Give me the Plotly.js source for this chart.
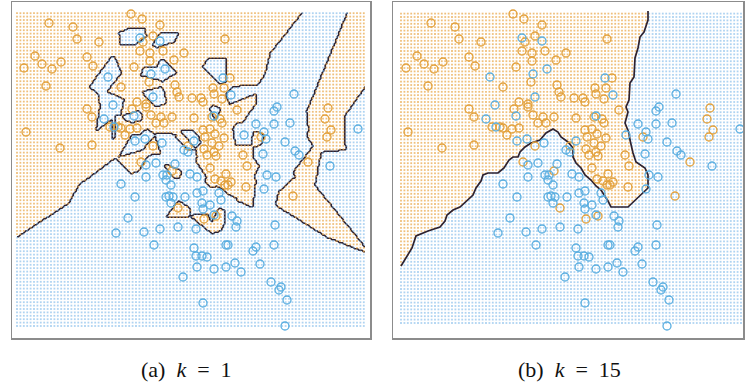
<!DOCTYPE html>
<html><head><meta charset="utf-8">
<script src="https://cdn.plot.ly/plotly-3.0.1.min.js"></script>
<style>html,body{margin:0;padding:0;background:#fff}#chart{width:745px;height:384px}</style>
</head><body><div id="chart"></div>
<script>
// Training data (same sample in both panels)
const orangeX=[120,131,149,38,62,66,88,142,132,214,129,139,152,173,24,31,41,50,76,82,13,139,163,123,35,110,138,164,166,168,219,213,202,203,181,190,192,211,126,135,135,76,81,121,140,150,153,145,161,183,209,201,211,226,107,110,114,99,119,126,192,199,194,204,213,201,208,203,205,193,196,177,142,130,250,232,236,297,316,320,314,317,15,49,81,161,199,215,204,210,217,220,214,235,282,167,193,205];
const orangeY=[324,319,313,315,311,299,296,302,296,299,287,285,287,285,282,274,269,276,281,272,270,277,278,271,252,251,256,253,246,241,260,250,250,244,240,240,236,239,236,234,231,229,221,229,223,221,215,215,221,220,219,221,215,228,211,210,203,211,209,210,208,209,201,204,200,195,192,186,182,189,183,192,192,176,201,183,172,176,201,208,219,230,206,190,193,167,170,164,159,157,153,156,153,151,142,130,119,122];
const blueX=[129,149,140,154,97,212,220,142,102,123,93,103,203,283,266,263,245,263,279,347,233,253,255,274,284,288,252,124,134,151,183,173,177,164,145,135,319,135,152,156,155,179,186,110,160,124,155,158,162,160,174,186,192,191,199,208,210,192,203,221,226,225,256,265,253,117,105,133,149,167,185,143,183,185,191,196,186,203,215,224,230,215,217,242,245,249,263,264,172,192,260,270,268,276,274];
const blueY=[300,297,264,269,261,260,243,241,233,222,219,211,222,244,231,227,214,214,215,209,203,206,199,196,187,183,184,197,199,195,197,188,186,174,175,173,172,161,163,163,158,164,161,154,153,141,141,142,141,135,141,145,147,135,133,145,138,129,123,122,117,111,163,161,149,120,105,106,109,111,109,93,90,82,82,81,71,69,71,75,66,93,93,87,91,74,93,113,61,35,56,51,48,38,12];
// 15-NN decision boundary as drawn in panel (b)
const boundary15X=[255,255,251,247,245,242,241,237,236,233,235,232,236,237,240,243,252,255,255,248,242,235,218,215,208,203,198,192,188,183,180,180,175,168,165,160,153,147,138,132,127,125,120,116,111,105,95,90,88,83,80,73,67,60,54,52,47,35,23,19,13,8];
const boundary15Y=[327,318,306,301,290,280,261,255,238,231,226,215,205,198,185,176,170,163,150,143,137,131,131,137,148,152,158,163,170,175,181,190,196,201,206,209,205,198,195,191,186,181,181,178,170,165,165,163,157,150,143,137,131,128,123,117,111,107,102,90,80,72];
const neighbourCounts=[1,15];
const captionTexts=['(a)\u2002<i>k</i>\u2002=\u20021','(b)\u2002<i>k</i>\u2002=\u200215'];

const ORANGE='#e2a03a', BLUE='#5aaee0', LINE='#2e2230';
const px=orangeX.concat(blueX), py=orangeY.concat(blueY);
const pc=orangeX.map(()=>1).concat(blueX.map(()=>0));

function vote(x,y,k){
  const bd=new Array(k).fill(Infinity), bc=new Array(k).fill(0);
  for(let i=0;i<px.length;i++){
    const dx=px[i]-x, dy=py[i]-y, d=dx*dx+dy*dy;
    if(d<bd[k-1]){
      let j=k-1;
      while(j>0 && bd[j-1]>d){bd[j]=bd[j-1];bc[j]=bc[j-1];j--;}
      bd[j]=d;bc[j]=pc[i];
    }
  }
  let s=0;for(let j=0;j<k;j++)s+=bc[j];
  return s/k;
}
// orange region of panel (b): boundary closed through the top-left corner
const polyX=boundary15X.concat([-20,-20,boundary15X[0]]);
const polyY=boundary15Y.concat([boundary15Y[boundary15Y.length-1],360,360]);
function inPoly(x,y){
  let inside=false;
  for(let i=0,j=polyX.length-1;i<polyX.length;j=i++){
    const xi=polyX[i],yi=polyY[i],xj=polyX[j],yj=polyY[j];
    if(((yi>y)!==(yj>y)) && (x<(xj-xi)*(y-yi)/(yj-yi)+xi)) inside=!inside;
  }
  return inside;
}

const panels=[
  {k:neighbourCounts[0], xa:'x', ya:'y', dotX:[6,355], dotY:[12,326]},
  {k:neighbourCounts[1], xa:'x2', ya:'y2', dotX:[8,348], dotY:[15,327]}
];
const traces=[];
panels.forEach((p,pi)=>{
  const isOrange=(x,y)=>pi===0?vote(x,y,p.k)>0.5:inPoly(x,y);
  const ox=[],oy=[],bx=[],by=[];
  for(let x=p.dotX[0];x<=p.dotX[1]+0.01;x+=3.4){
    for(let y=p.dotY[0];y<=p.dotY[1]+0.01;y+=3.4){
      if(isOrange(x,y)){ox.push(x);oy.push(y);}else{bx.push(x);by.push(y);}
    }
  }
  traces.push({type:'scatter',mode:'markers',x:ox,y:oy,xaxis:p.xa,yaxis:p.ya,hoverinfo:'skip',
    marker:{symbol:'square',size:1.8,color:'rgba(232,165,70,0.7)',line:{width:0}}});
  traces.push({type:'scatter',mode:'markers',x:bx,y:by,xaxis:p.xa,yaxis:p.ya,hoverinfo:'skip',
    marker:{symbol:'square',size:1.8,color:'rgba(110,175,230,0.55)',line:{width:0}}});
  if(pi===0){
    const gx=[],gy=[],z=[];
    const st=1.5;
    for(let x=p.dotX[0];x<=p.dotX[1];x+=st)gx.push(x);
    for(let y=p.dotY[0];y<=p.dotY[1];y+=st)gy.push(y);
    for(const y of gy){const row=[];for(const x of gx)row.push(vote(x,y,p.k)>0.5?1:0);z.push(row);}
    traces.push({type:'contour',x:gx,y:gy,z:z,xaxis:p.xa,yaxis:p.ya,showscale:false,hoverinfo:'skip',
      contours:{start:0.5,end:0.5,size:1,coloring:'none'},line:{color:LINE,width:1.7,smoothing:0}});
  } else {
    traces.push({type:'scatter',mode:'lines',x:boundary15X,y:boundary15Y,xaxis:p.xa,yaxis:p.ya,hoverinfo:'skip',
      line:{color:LINE,width:1.7}});
  }
  traces.push({type:'scatter',mode:'markers',x:orangeX,y:orangeY,xaxis:p.xa,yaxis:p.ya,hoverinfo:'skip',
    marker:{symbol:'circle-open',size:8,color:ORANGE,line:{width:1.3,color:ORANGE}}});
  traces.push({type:'scatter',mode:'markers',x:blueX,y:blueY,xaxis:p.xa,yaxis:p.ya,hoverinfo:'skip',
    marker:{symbol:'circle-open',size:8,color:BLUE,line:{width:1.3,color:BLUE}}});
});

const ax={showgrid:false,zeroline:false,showticklabels:false,ticks:'',showline:true,mirror:true,linecolor:'#8c8c8c',linewidth:1.5,fixedrange:true};
const capFont={family:'Liberation Serif, DejaVu Serif, serif',size:22,color:'#111'};
const layout={
  width:745,height:384,margin:{l:0,r:0,t:0,b:0},paper_bgcolor:'#fff',plot_bgcolor:'#fff',showlegend:false,
  xaxis:Object.assign({},ax,{domain:[12/745,370/745],range:[1,359],anchor:'y'}),
  yaxis:Object.assign({},ax,{domain:[46/384,382/384],range:[0,336],anchor:'x'}),
  xaxis2:Object.assign({},ax,{domain:[393/745,743/745],range:[0,350],anchor:'y2'}),
  yaxis2:Object.assign({},ax,{domain:[46/384,382/384],range:[0,336],anchor:'x2'}),
  annotations:[
    {xref:'paper',yref:'paper',x:186/745,y:(384-369)/384,xanchor:'center',yanchor:'middle',showarrow:false,text:captionTexts[0],font:capFont},
    {xref:'paper',yref:'paper',x:569/745,y:(384-369)/384,xanchor:'center',yanchor:'middle',showarrow:false,text:captionTexts[1],font:capFont}
  ]
};
Plotly.newPlot('chart',traces,layout,{staticPlot:true,displayModeBar:false});
</script></body></html>
